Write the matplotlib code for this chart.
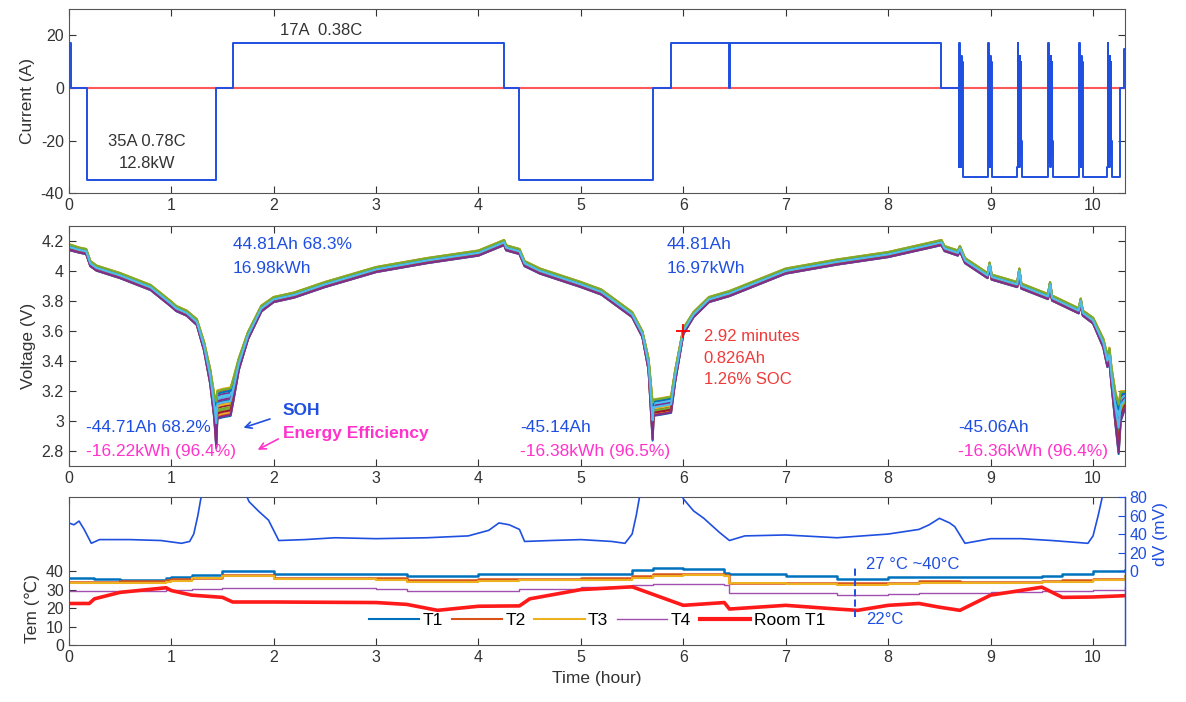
import numpy as np
import matplotlib.pyplot as plt
from matplotlib.lines import Line2D

plt.rcParams['font.family'] = ['Liberation Sans', 'DejaVu Sans']
plt.rcParams['font.size'] = 11.5
plt.rcParams['axes.unicode_minus'] = False

BLUE = '#1f4fe0'
MAGENTA = '#ff33cc'
RED_TXT = '#f03a3a'
MATLAB = ['#0072BD', '#D95319', '#EDB120', '#7E2F8E', '#77AC30', '#4DBEEE', '#A2142F']

# ---- current (A), step breakpoints ----
cur_t = [0, 0.02, 0.18, 1.44, 1.60, 4.25, 4.40, 5.70, 5.88, 6.45, 6.46, 8.52, 8.68]
cur_a = [17, 0, -35, 0, 17, 0, -35, 0, 17, 0, 17, 0, 0]
burst_start = [8.69, 8.97, 9.26, 9.56, 9.86, 10.14]
burst_dt = [0, 0.005, 0.01, 0.015, 0.02, 0.025, 0.03, 0.035, 0.04]
burst_a = [-30, 17, -28, 11, -30, 12, -25, 10, -20]
tail_t = [10.19, 10.26, 10.30, 10.31]
tail_a = [-34, 0, 15, 15]

# ---- cell voltage band (V): time, middle, band width ----
v_t = [0.00, 0.10, 0.17, 0.21, 0.27, 0.50, 0.80, 1.00, 1.05, 1.15, 1.25, 1.32, 1.38,
       1.42, 1.44, 1.45, 1.50, 1.58, 1.61, 1.66, 1.75, 1.88, 2.00, 2.20, 2.50, 3.00,
       3.50, 4.00, 4.25, 4.27, 4.40, 4.45, 4.60, 5.00, 5.20, 5.40, 5.50, 5.60, 5.66,
       5.70, 5.71, 5.80, 5.88, 5.92, 6.00, 6.10, 6.25, 6.45, 7.00, 7.50, 8.00, 8.52,
       8.55, 8.68, 8.70, 8.75, 8.97, 8.99, 9.01, 9.26, 9.28, 9.30, 9.56, 9.58, 9.60,
       9.86, 9.88, 9.90, 10.00, 10.10, 10.14, 10.16, 10.18, 10.22, 10.25, 10.27, 10.31]
v_mid = [4.16, 4.14, 4.13, 4.05, 4.02, 3.97, 3.89, 3.78, 3.75, 3.72, 3.66, 3.50, 3.30,
         3.10, 2.98, 3.11, 3.12, 3.13, 3.22, 3.38, 3.57, 3.75, 3.81, 3.84, 3.91, 4.01,
         4.07, 4.12, 4.19, 4.155, 4.13, 4.05, 4.00, 3.91, 3.86, 3.76, 3.71, 3.58, 3.38,
         3.00, 3.09, 3.10, 3.11, 3.30, 3.60, 3.71, 3.81, 3.85, 4.00, 4.06, 4.11, 4.19,
         4.15, 4.12, 4.15, 4.07, 3.97, 4.04, 3.96, 3.91, 4.00, 3.90, 3.83, 3.91, 3.82,
         3.735, 3.80, 3.72, 3.67, 3.52, 3.40, 3.44, 3.30, 3.08, 2.95, 3.10, 3.14]
v_w = [0.04, 0.035, 0.035, 0.035, 0.035, 0.035, 0.035, 0.035, 0.035, 0.035, 0.04, 0.06,
       0.10, 0.16, 0.32, 0.19, 0.19, 0.19, 0.15, 0.08, 0.05, 0.04, 0.035, 0.035, 0.035,
       0.035, 0.035, 0.035, 0.035, 0.035, 0.035, 0.035, 0.035, 0.035, 0.035, 0.035,
       0.035, 0.04, 0.08, 0.26, 0.11, 0.11, 0.11, 0.08, 0.04, 0.035, 0.035, 0.035, 0.035,
       0.035, 0.035, 0.035, 0.035, 0.035, 0.035, 0.035, 0.035, 0.035, 0.035, 0.035,
       0.035, 0.035, 0.035, 0.035, 0.035, 0.035, 0.035, 0.035, 0.04, 0.06, 0.08, 0.10,
       0.12, 0.22, 0.34, 0.20, 0.12]
cell_frac = [-0.5, 0.44, -0.38, 0.31, -0.25, 0.19, -0.12, 0.06, 0.0,
             -0.06, 0.12, -0.19, 0.25, -0.31, 0.38, -0.44, 0.5, -0.47, 0.47, 0.02]

# ---- temperatures (C) ----
tem_t = [0, 0.2, 0.25, 0.5, 0.95, 1.0, 1.2, 1.5, 1.6, 2.0, 3.0, 3.3, 3.6, 4.0, 4.4, 4.5,
         5.0, 5.5, 5.7, 6.0, 6.4, 6.45, 7.0, 7.5, 7.7, 8.0, 8.3, 8.5, 8.7, 9.0, 9.5,
         9.7, 10.0, 10.31]
t1 = [36.3, 36, 35.5, 35.3, 36.5, 37, 38, 40.2, 40.2, 38.3, 38.3, 37.2, 37.2, 38.3, 38.3,
      38.3, 38.3, 40.5, 41.5, 41, 38.8, 38.5, 37.5, 35.8, 35.8, 37, 37, 37, 37, 37, 37.5,
      38.5, 40, 40.5]
t2 = [34, 34, 34, 34.5, 35, 35.5, 36.5, 38, 38, 36.3, 36.3, 35.3, 35.3, 35.8, 35.8, 35.8,
      36.3, 37.5, 38.3, 38.3, 38, 33.8, 33.5, 33.3, 33.3, 33.8, 34.5, 34.5, 34.3, 34.3,
      34.8, 35, 35.5, 37]
t3 = [33.3, 33.3, 33.3, 33.5, 34.3, 34.8, 36, 37.3, 37.3, 35.5, 35.3, 34.3, 34.3, 34.5,
      35, 35, 35.3, 36.5, 37.5, 37.8, 37.5, 33.3, 33, 32.3, 32.3, 33.2, 33.5, 33.5, 33.5,
      33.5, 34, 34.3, 35, 37.5]
t4 = [29, 29, 29, 29.5, 30, 30, 30.5, 31, 31, 31, 30.5, 29.5, 29.5, 29.5, 30.5, 30.5,
      31.3, 32.5, 33, 32.8, 32.3, 28.3, 28, 27.3, 27.3, 27.7, 28, 28, 28.3, 28.6, 29,
      29.5, 30, 31.5]
room = [22.5, 22.5, 25, 28.5, 31, 29.5, 27, 25.8, 23.3, 23.3, 23, 22, 18.8, 21, 21.2, 25,
        30, 31.5, 27.5, 21.5, 23, 19.5, 21.5, 19.5, 18.8, 21.5, 22.5, 20.5, 18.8, 27, 31.3,
        25.8, 26, 26.7]

# ---- max cell voltage difference dV (mV) ----
dv_t = [0, 0.05, 0.1, 0.15, 0.22, 0.3, 0.6, 0.9, 1.1, 1.18, 1.22, 1.26, 1.3, 1.72, 1.76,
        1.85, 1.95, 2.05, 2.3, 2.6, 3.0, 3.5, 3.9, 4.1, 4.2, 4.3, 4.4, 4.45, 4.7, 5.0,
        5.3, 5.43, 5.5, 5.54, 5.58, 5.98, 6.0, 6.1, 6.2, 6.35, 6.45, 6.6, 7.0, 7.5, 8.0,
        8.3, 8.4, 8.5, 8.6, 8.65, 8.75, 9.0, 9.3, 9.6, 9.95, 10.0, 10.05, 10.1]
dv = [52, 50, 54, 45, 30, 34, 34, 33, 30, 32, 40, 60, 85, 85, 75, 65, 55, 33, 34, 36, 35,
      36, 38, 44, 52, 50, 45, 32, 33, 34, 32, 30, 40, 60, 85, 85, 78, 65, 57, 42, 33, 38,
      39, 36, 40, 45, 50, 57, 52, 48, 30, 35, 35, 33, 30, 38, 60, 85]

# build current series
ct = list(cur_t)
ca = list(cur_a)
for i, b in enumerate(burst_start):
    for dt, a in zip(burst_dt, burst_a):
        ct.append(b + dt)
        ca.append(a)
    ct.append(b + burst_dt[-1] + 0.005)
    ca.append(-34)
ct += tail_t
ca += tail_a

fig = plt.figure(figsize=(11.86, 7.02), dpi=100)
L, W = 0.058, 0.8904
ax1 = fig.add_axes([L, 0.725, W, 0.262])
ax2 = fig.add_axes([L, 0.336, W, 0.342])
ax3 = fig.add_axes([L, 0.081, W, 0.211])

xmax = 10.31
for ax in (ax1, ax2, ax3):
    ax.set_xlim(0, xmax)
    ax.set_xticks(range(0, 11))
    ax.tick_params(direction='in', top=True, length=5, colors='#333333', labelsize=11.5)
    for s in ax.spines.values():
        s.set_color('#555555')
        s.set_linewidth(0.8)

# current
ax1.axhline(0, color='#ff5a5a', lw=1.5)
ax1.plot(ct, ca, color=BLUE, lw=1.4, drawstyle='steps-post')
ax1.set_ylim(-40, 30)
ax1.set_yticks([-40, -20, 0, 20])
ax1.tick_params(right=True)
ax1.set_ylabel('Current (A)', fontsize=12.5, color='#333333')
ax1.text(2.06, 22, '17A  0.38C', fontsize=12, color='#333333', va='center')
ax1.text(0.76, -20.4, '35A 0.78C', fontsize=12, color='#333333', va='center', ha='center')
ax1.text(0.76, -28.9, '12.8kW', fontsize=12, color='#333333', va='center', ha='center')

# voltage
vm = np.array(v_mid)
vw = np.array(v_w)
for i, f in enumerate(cell_frac):
    ax2.plot(v_t, vm + f * vw, color=MATLAB[i % 7], lw=1.5)
ax2.set_ylim(2.7, 4.3)
ax2.set_yticks([2.8, 3, 3.2, 3.4, 3.6, 3.8, 4, 4.2])
ax2.set_yticklabels(['2.8', '3', '3.2', '3.4', '3.6', '3.8', '4', '4.2'])
ax2.tick_params(right=True)
ax2.set_ylabel('Voltage (V)', fontsize=12.5, color='#333333')
fs = 12.5
ax2.text(1.6, 4.18, '44.81Ah 68.3%', color=BLUE, fontsize=fs, va='center')
ax2.text(1.6, 4.02, '16.98kWh', color=BLUE, fontsize=fs, va='center')
ax2.text(5.84, 4.18, '44.81Ah', color=BLUE, fontsize=fs, va='center')
ax2.text(5.84, 4.02, '16.97kWh', color=BLUE, fontsize=fs, va='center')
ax2.text(0.17, 2.96, '-44.71Ah 68.2%', color=BLUE, fontsize=fs, va='center')
ax2.text(0.17, 2.80, '-16.22kWh (96.4%)', color=MAGENTA, fontsize=fs, va='center')
ax2.text(4.41, 2.96, '-45.14Ah', color=BLUE, fontsize=fs, va='center')
ax2.text(4.41, 2.80, '-16.38kWh (96.5%)', color=MAGENTA, fontsize=fs, va='center')
ax2.text(8.68, 2.96, '-45.06Ah', color=BLUE, fontsize=fs, va='center')
ax2.text(8.68, 2.80, '-16.36kWh (96.4%)', color=MAGENTA, fontsize=fs, va='center')
ax2.text(2.09, 3.07, 'SOH', color=BLUE, fontsize=12.5, fontweight='bold', va='center')
ax2.text(2.09, 2.92, 'Energy Efficiency', color=MAGENTA, fontsize=12.5,
         fontweight='bold', va='center')
ax2.annotate('', xy=(1.68, 2.95), xytext=(1.99, 3.02),
             arrowprops=dict(arrowstyle='->', color=BLUE, lw=1.2))
ax2.annotate('', xy=(1.82, 2.80), xytext=(2.07, 2.89),
             arrowprops=dict(arrowstyle='->', color=MAGENTA, lw=1.2))
ax2.plot([6.0], [3.6], marker='+', color='red', ms=10, mew=1.3)
ax2.text(6.2, 3.565, '2.92 minutes', color=RED_TXT, fontsize=12, va='center')
ax2.text(6.2, 3.42, '0.826Ah', color=RED_TXT, fontsize=12, va='center')
ax2.text(6.2, 3.275, '1.26% SOC', color=RED_TXT, fontsize=12, va='center')

# temperature + dV
ax3.set_ylim(0, 80)
ax3.set_yticks([0, 10, 20, 30, 40])
ax3.tick_params(right=False)
ax3.set_ylabel('Tem (℃)', fontsize=12.5, color='#333333', y=0.25)
ax3.set_xlabel('Time (hour)', fontsize=12.5, color='#333333')
ax3.plot(tem_t, t1, color=MATLAB[0], lw=1.8, drawstyle='steps-post', label='T1')
ax3.plot(tem_t, t2, color=MATLAB[1], lw=1.8, drawstyle='steps-post', label='T2')
ax3.plot(tem_t, t3, color=MATLAB[2], lw=1.5, drawstyle='steps-post', label='T3')
ax3.plot(tem_t, t4, color='#a24fb0', lw=1.0, drawstyle='steps-post', label='T4')
ax3.plot(tem_t, room, color='#ff1a1a', lw=2.6, label='Room T1')
ax3.vlines(7.68, 15, 43, colors=BLUE, linestyles='--', lw=1.4)
ax3.text(7.78, 43.5, '27 °C ~40°C', color=BLUE, fontsize=12, va='center')
ax3.text(7.78, 14, '22°C', color=BLUE, fontsize=12, va='center')
handles = [Line2D([], [], color=MATLAB[0], lw=1.5),
           Line2D([], [], color=MATLAB[1], lw=1.5),
           Line2D([], [], color=MATLAB[2], lw=1.5),
           Line2D([], [], color='#a24fb0', lw=1.0),
           Line2D([], [], color='#ff1a1a', lw=3.0)]
ax3.legend(handles, ['T1', 'T2', 'T3', 'T4', 'Room T1'], ncol=5, frameon=False,
           loc='center', bbox_to_anchor=(0.5, 0.165), fontsize=12.5, handlelength=2.9,
           columnspacing=0.5, handletextpad=0.2, borderpad=0)

ax4 = ax3.twinx()
ax4.plot(dv_t, dv, color=BLUE, lw=1.2)
ax4.set_ylim(-80, 80)
ax4.set_yticks([0, 20, 40, 60, 80])
ax4.tick_params(direction='in', length=5, colors=BLUE, labelsize=11.5)
ax4.spines['right'].set_color(BLUE)
ax4.spines['right'].set_linewidth(1.0)
for s in ('left', 'top', 'bottom'):
    ax4.spines[s].set_visible(False)
ax4.set_ylabel('dV (mV)', fontsize=12.5, color=BLUE, y=0.75)

fig.savefig('out.png', dpi=100)
